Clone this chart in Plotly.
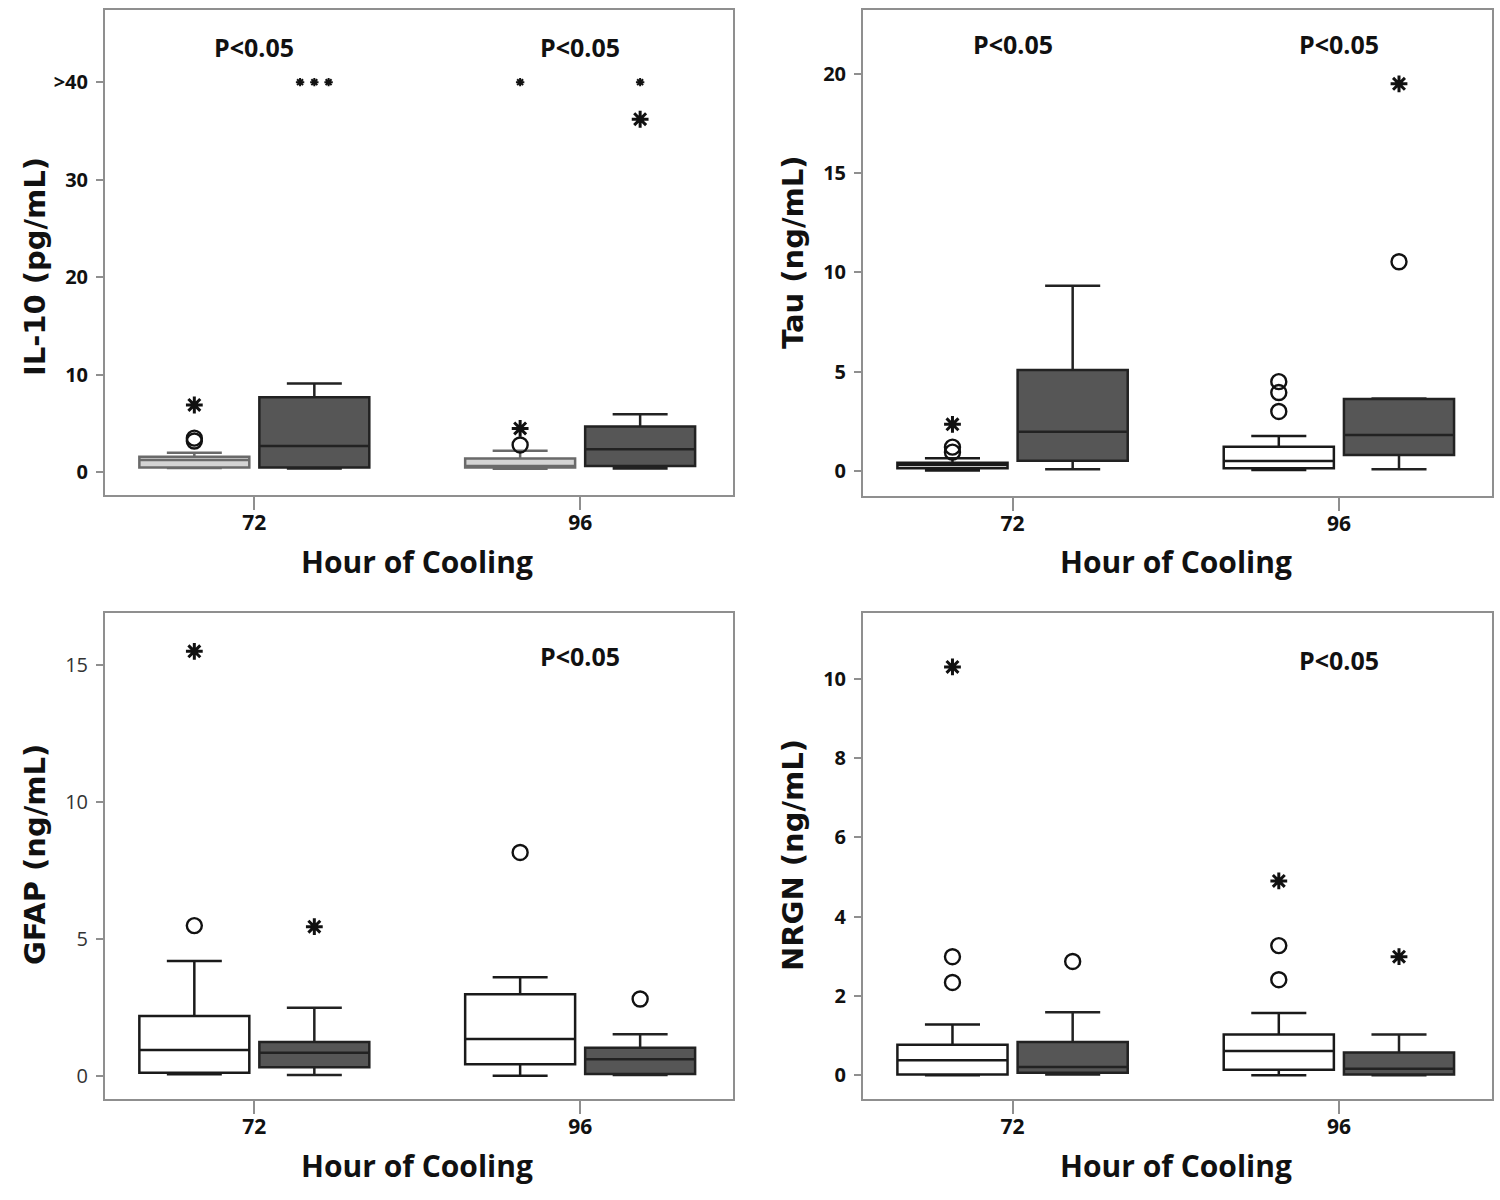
import plotly.graph_objects as go

# ---------------- data ----------------
hours = [72, 96]
hour_labels = ["72", "96"]

# per hour: (lower whisker, Q1, median, Q3, upper whisker)
il10_white = [(0.45, 0.5, 1.25, 1.6, 2.0), (0.35, 0.5, 0.65, 1.4, 2.2)]
il10_dark = [(0.4, 0.5, 2.7, 7.7, 9.1), (0.4, 0.65, 2.35, 4.7, 5.95)]
il10_white_circles = [[3.2, 3.5], [2.8]]
il10_white_stars = [[6.9], [4.5]]
il10_dark_circles = [[], []]
il10_dark_stars = [[], [36.2]]
il10_white_over40 = [0, 1]   # count of values >40
il10_dark_over40 = [3, 1]

tau_white = [(0.02, 0.14, 0.3, 0.42, 0.64), (0.05, 0.14, 0.5, 1.22, 1.76)]
tau_dark = [(0.09, 0.52, 1.98, 5.09, 9.33), (0.09, 0.81, 1.81, 3.63, 3.65)]
tau_white_circles = [[0.95, 1.2], [3.0, 3.95, 4.5]]
tau_white_stars = [[2.35], []]
tau_dark_circles = [[], [10.54]]
tau_dark_stars = [[], [19.5]]

gfap_white = [(0.06, 0.12, 0.95, 2.19, 4.2), (0.01, 0.43, 1.35, 2.98, 3.6)]
gfap_dark = [(0.04, 0.32, 0.85, 1.24, 2.49), (0.04, 0.07, 0.61, 1.03, 1.52)]
gfap_white_circles = [[5.49], [8.16]]
gfap_white_stars = [[15.5], []]
gfap_dark_circles = [[], [2.81]]
gfap_dark_stars = [[5.45], []]

nrgn_white = [(0.0, 0.02, 0.38, 0.77, 1.28), (0.0, 0.14, 0.61, 1.03, 1.57)]
nrgn_dark = [(0.02, 0.06, 0.21, 0.84, 1.59), (0.0, 0.02, 0.16, 0.57, 1.03)]
nrgn_white_circles = [[2.34, 2.99], [2.41, 3.27]]
nrgn_white_stars = [[10.3], [4.9]]
nrgn_dark_circles = [[2.87], []]
nrgn_dark_stars = [[], [2.99]]

y_titles = ["IL-10 (pg/mL)", "Tau (ng/mL)", "GFAP (ng/mL)", "NRGN (ng/mL)"]
x_title = "Hour of Cooling"
p_label = "P<0.05"
il10_ticks = [0, 10, 20, 30, 40]
il10_ticktext = ["0", "10", "20", "30", ">40"]
tau_ticks = [0, 5, 10, 15, 20]
gfap_ticks = [0, 5, 10, 15]
nrgn_ticks = [0, 2, 4, 6, 8, 10]
p_hours = [[72, 96], [72, 96], [96], [96]]

# ---------------- styling ----------------
FONT = "Open Sans"
YFONT = "DejaVu Sans"
OFF = 4.42      # hours offset of each box from the category position
BOXW = 8.1      # box width in hours
FRAME = "#8f8f8f"
W, H = 1500, 1200

panels = [
    dict(white=il10_white, dark=il10_dark, wc=il10_white_circles, ws=il10_white_stars,
         dc=il10_dark_circles, ds=il10_dark_stars, yr=[-2.33, 47.4],
         tv=il10_ticks, tt=il10_ticktext, bold=True, wfill="#d4d4d4", wline="#6a6a6a",
         xd=[105, 733], yd=[10, 495], ytc=(35, 267), py=47),
    dict(white=tau_white, dark=tau_dark, wc=tau_white_circles, ws=tau_white_stars,
         dc=tau_dark_circles, ds=tau_dark_stars, yr=[-1.26, 23.22],
         tv=tau_ticks, tt=[str(t) for t in tau_ticks], bold=True, wfill="white", wline="#1a1a1a",
         xd=[863, 1492], yd=[10, 496], ytc=(793, 252), py=44),
    dict(white=gfap_white, dark=gfap_dark, wc=gfap_white_circles, ws=gfap_white_stars,
         dc=gfap_dark_circles, ds=gfap_dark_stars, yr=[-0.84, 16.9],
         tv=gfap_ticks, tt=[str(t) for t in gfap_ticks], bold=False, wfill="white", wline="#1a1a1a",
         xd=[105, 733], yd=[613, 1099], ytc=(35, 855), py=656),
    dict(white=nrgn_white, dark=nrgn_dark, wc=nrgn_white_circles, ws=nrgn_white_stars,
         dc=nrgn_dark_circles, ds=nrgn_dark_stars, yr=[-0.6, 11.66],
         tv=nrgn_ticks, tt=[str(t) for t in nrgn_ticks], bold=True, wfill="white", wline="#1a1a1a",
         xd=[863, 1492], yd=[613, 1099], ytc=(793, 855), py=660),
]

fig = go.Figure()
layout = dict(width=W, height=H, margin=dict(l=0, r=0, t=0, b=0),
              paper_bgcolor="white", plot_bgcolor="white", showlegend=False,
              font=dict(family=FONT, color="#111"))
annotations = []

for i, p in enumerate(panels):
    n = "" if i == 0 else str(i + 1)
    xa, ya = "x" + n, "y" + n
    for grp, sign, fill, lc in [("white", -1, p["wfill"], p["wline"]), ("dark", 1, "#565656", "#222222")]:
        stats = p[grp]
        xs = [h + sign * OFF for h in hours]
        fig.add_trace(go.Box(
            x=xs, lowerfence=[s[0] for s in stats], q1=[s[1] for s in stats],
            median=[s[2] for s in stats], q3=[s[3] for s in stats],
            upperfence=[s[4] for s in stats], width=BOXW, whiskerwidth=0.5,
            fillcolor=fill, line=dict(color=lc, width=2.5), boxpoints=False,
            xaxis=xa, yaxis=ya, hoverinfo="skip"))
        circ = p["wc"] if grp == "white" else p["dc"]
        star = p["ws"] if grp == "white" else p["ds"]
        cx, cy, sx, sy = [], [], [], []
        for k, h in enumerate(hours):
            for v in circ[k]:
                cx.append(h + sign * OFF); cy.append(v)
            for v in star[k]:
                sx.append(h + sign * OFF); sy.append(v)
        if cx:
            fig.add_trace(go.Scatter(x=cx, y=cy, mode="markers", xaxis=xa, yaxis=ya,
                                     marker=dict(symbol="circle-open", size=15, color="#111",
                                                 line=dict(width=2.4, color="#111"))))
        if sx:
            fig.add_trace(go.Scatter(x=sx, y=sy, mode="markers", xaxis=xa, yaxis=ya,
                                     marker=dict(symbol="asterisk-open", size=14, color="#111",
                                                 line=dict(width=3, color="#111"))))
    if i == 0:
        ox, oy = [], []
        for grp, sign, counts in [("white", -1, il10_white_over40), ("dark", 1, il10_dark_over40)]:
            for k, h in enumerate(hours):
                c = counts[k]
                for j in range(c):
                    ox.append(h + sign * OFF + (j - (c - 1) / 2) * 1.05)
                    oy.append(40)
        fig.add_trace(go.Scatter(x=ox, y=oy, mode="markers", xaxis=xa, yaxis=ya,
                                 marker=dict(symbol="asterisk-open", size=7, color="#111",
                                             line=dict(width=2, color="#111"))))

    tickfont = dict(family=FONT, size=20, color="#111" if p["bold"] else "#333",
                    weight="bold" if p["bold"] else "normal")
    layout["xaxis" + n] = dict(
        domain=[p["xd"][0] / W, p["xd"][1] / W], range=[61.0, 107.26], anchor=ya,
        tickvals=hours, ticktext=hour_labels, ticks="outside", ticklen=13, tickwidth=2,
        tickcolor=FRAME, showline=True, mirror=True, linecolor=FRAME, linewidth=2,
        showgrid=False, zeroline=False, ticklabelstandoff=-5,
        tickfont=dict(family=FONT, size=21, color="#111", weight="bold"))
    layout["yaxis" + n] = dict(
        domain=[1 - p["yd"][1] / H, 1 - p["yd"][0] / H], range=p["yr"], anchor=xa,
        tickvals=p["tv"], ticktext=p["tt"], ticks="outside", ticklen=7, tickwidth=2,
        tickcolor=FRAME, showline=True, mirror=True, linecolor=FRAME, linewidth=2,
        showgrid=False, zeroline=False, ticklabelstandoff=4, tickfont=tickfont)

    # P-value labels
    for h in p_hours[i]:
        annotations.append(dict(x=h, xref=xa, y=1 - p["py"] / H, yref="paper",
                                xanchor="center", yanchor="middle",
                                text=p_label, showarrow=False,
                                font=dict(family=FONT, size=25, color="#111", weight="bold")))
    # axis titles
    xcen = (p["xd"][0] + p["xd"][1]) / 2 - 2
    annotations.append(dict(x=xcen / W, xref="paper", y=1 - (p["yd"][1] + 66) / H, yref="paper",
                            xanchor="center", yanchor="middle",
                            text=x_title, showarrow=False,
                            font=dict(family=FONT, size=30, color="#111", weight="bold")))
    annotations.append(dict(x=p["ytc"][0] / W, xref="paper", y=1 - p["ytc"][1] / H, yref="paper",
                            xanchor="center", yanchor="middle",
                            text=y_titles[i], showarrow=False, textangle=-90,
                            font=dict(family=YFONT, size=29, color="#111", weight="bold")))

layout["annotations"] = annotations
fig.update_layout(**layout)
fig.write_html("out.html", config={"displayModeBar": False},
               post_script="document.body.style.margin='0';")
